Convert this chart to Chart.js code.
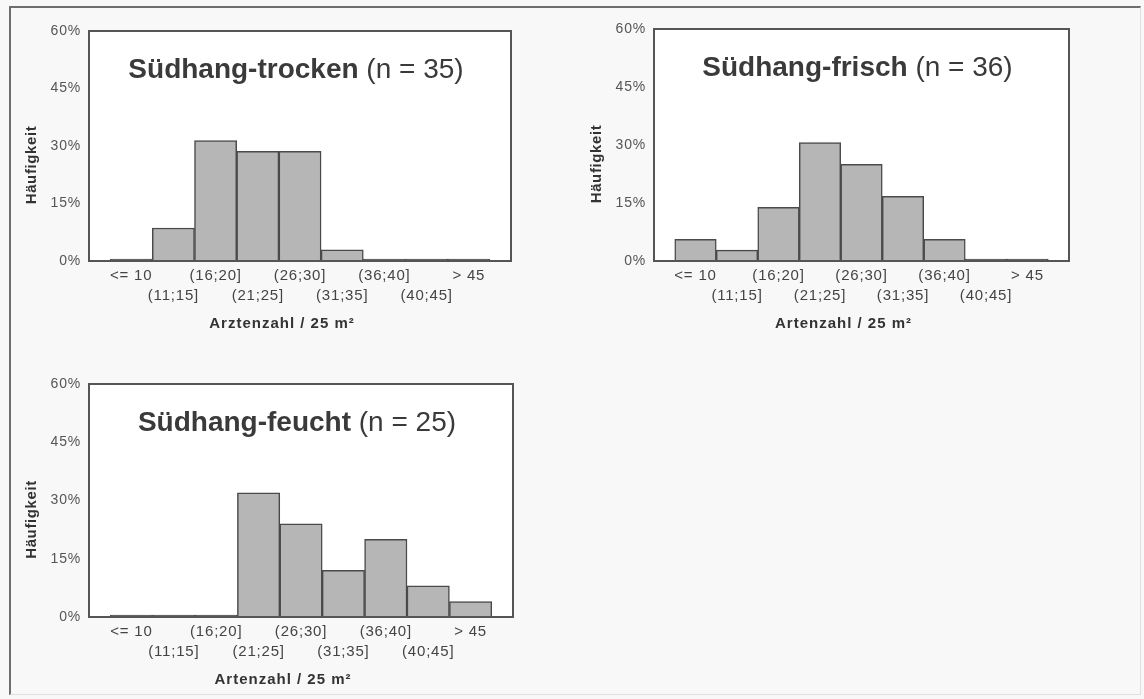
<!DOCTYPE html>
<html>
<head>
<meta charset="utf-8">
<script src="https://cdn.jsdelivr.net/npm/chart.js@4.4.1/dist/chart.umd.min.js"></script>
<style>
  body { margin: 0; background: #f8f8f8; width: 1144px; height: 699px; position: relative; overflow: hidden; }
  .frame { position: absolute; left: 9px; top: 6px; right: 3px; bottom: 4px;
    border-top: 2px solid #6e6e6e; border-left: 2px solid #6e6e6e;
    border-right: 1px solid #e0e0e0; border-bottom: 1px solid #e0e0e0; }
  canvas { position: absolute; }
</style>
</head>
<body>
<div class="frame"></div>
<canvas id="trocken" width="565" height="345" style="left:0;top:0"></canvas>
<canvas id="frisch" width="579" height="345" style="left:565px;top:0"></canvas>
<canvas id="feucht" width="565" height="349" style="left:0;top:350px"></canvas>
<script>
// classes of species count per 25 m2
const classes = ['<= 10', '(11;15]', '(16;20]', '(21;25]', '(26;30]', '(31;35]', '(36;40]', '(40;45]', '> 45'];
const yTicks = [0, 15, 30, 45, 60];

// frequency in %
const trocken = [0, 8.6, 31.4, 28.6, 28.6, 2.9, 0, 0, 0];
const frisch = [5.6, 2.8, 13.9, 30.6, 25.0, 16.7, 5.6, 0, 0];
const feucht = [0, 0, 0, 32, 24, 12, 20, 8, 4];

const FONT = '"Liberation Sans", Arial, sans-serif';

// white plot area, frame, in-plot title and axis titles
const decor = {
  id: 'decor',
  beforeDraw(chart) {
    const { ctx, chartArea: a } = chart;
    ctx.save();
    ctx.fillStyle = '#ffffff';
    ctx.fillRect(a.left, a.top, a.width, a.height);
    ctx.restore();
    ctx.letterSpacing = '0.8px';
  },
  afterDraw(chart, args, opts) {
    const { ctx, chartArea: a } = chart;
    ctx.save();
    ctx.strokeStyle = '#555';
    ctx.lineWidth = 2;
    ctx.strokeRect(a.left, a.top, a.width, a.height);

    ctx.letterSpacing = '0px';
    ctx.fillStyle = '#3a3a3a';
    ctx.textBaseline = 'alphabetic';
    ctx.textAlign = 'left';
    const bold = 'bold 28px ' + FONT;
    const reg = '28px ' + FONT;
    ctx.font = bold;
    const w1 = ctx.measureText(opts.name).width;
    ctx.font = reg;
    const w2 = ctx.measureText(opts.n).width;
    const x = (a.left + a.right) / 2 - 4 - (w1 + w2) / 2;
    const y = a.top + 47;
    ctx.font = bold;
    ctx.fillText(opts.name, x, y);
    ctx.font = reg;
    ctx.fillText(opts.n, x + w1, y);

    ctx.letterSpacing = '1px';
    ctx.fillStyle = '#333';
    ctx.font = 'bold 15px ' + FONT;
    ctx.textAlign = 'center';
    ctx.textBaseline = 'middle';
    ctx.fillText(opts.xTitle, (a.left + a.right) / 2 - 18, a.bottom + 63);
    ctx.letterSpacing = '0.6px';
    ctx.translate(a.left - 57, (a.top + a.bottom) / 2 + 19);
    ctx.rotate(-Math.PI / 2);
    ctx.fillText(opts.yTitle, 0, 0);
    ctx.restore();
  }
};

function classLabel(v) {
  const i = Math.round(v);
  if (Math.abs(v - i) > 1e-6 || i < 0 || i >= classes.length) return '';
  return i % 2 === 0 ? [classes[i], ''] : ['', classes[i]];
}

function makeChart(id, values, name, n, xTitle, pad, xHeight) {
  return new Chart(document.getElementById(id), {
    type: 'bar',
    data: {
      datasets: [{
        data: values.map((v, i) => ({ x: i, y: v })),
        backgroundColor: '#b6b6b6',
        borderColor: '#4a4a4a',
        borderWidth: 1.5,
        minBarLength: 2,
        barPercentage: 1,
        categoryPercentage: 1
      }]
    },
    options: {
      responsive: false,
      animation: false,
      layout: { padding: { top: pad.top, right: pad.right, left: 0, bottom: 0 } },
      plugins: {
        legend: { display: false },
        tooltip: { enabled: false },
        decor: { name: name, n: n, xTitle: xTitle, yTitle: 'Häufigkeit' }
      },
      scales: {
        x: {
          type: 'linear',
          offset: false,
          min: -1,
          max: classes.length,
          grid: { display: false, drawTicks: false },
          border: { display: false },
          afterFit: s => { s.height = xHeight; },
          ticks: {
            stepSize: 1,
            includeBounds: false,
            autoSkip: false,
            maxRotation: 0,
            padding: 5,
            color: '#444',
            font: { family: FONT, size: 15, lineHeight: 1.33 },
            callback: classLabel
          }
        },
        y: {
          min: yTicks[0],
          max: yTicks[yTicks.length - 1],
          grid: { display: false, drawTicks: false },
          border: { display: false },
          afterFit: s => { s.width = 89; },
          ticks: {
            stepSize: yTicks[1] - yTicks[0],
            padding: 8,
            color: '#555',
            font: { family: FONT, size: 14 },
            callback: v => v + '%'
          }
        }
      }
    },
    plugins: [decor]
  });
}

makeChart('trocken', trocken, 'Südhang-trocken', ' (n = 35)', 'Arztenzahl / 25 m²', { top: 31, right: 54 }, 84);
makeChart('frisch', frisch, 'Südhang-frisch', ' (n = 36)', 'Artenzahl / 25 m²', { top: 29, right: 75 }, 84);
makeChart('feucht', feucht, 'Südhang-feucht', ' (n = 25)', 'Artenzahl / 25 m²', { top: 34, right: 52 }, 82);
</script>
</body>
</html>
